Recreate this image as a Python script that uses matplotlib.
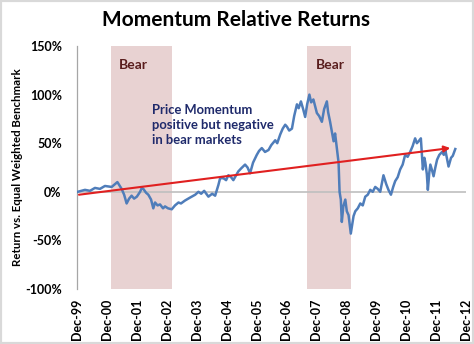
import matplotlib
matplotlib.use("Agg")
import matplotlib.pyplot as plt
from matplotlib.patches import Rectangle

# ---- data (months since Dec-99, relative return %) ----
months = [0.3, 3.2, 5.2, 7.2, 9.2, 11.2, 13.9, 14.8, 16.2, 17.9, 18.9, 19.9, 20.9, 21.9, 22.9,
          24.0, 25.3, 26.0, 26.6, 27.7, 28.6, 29.7, 30.6, 31.3, 32.3, 33.3, 34.5, 35.3, 36.5, 38.0,
          39.3, 40.7, 41.7, 43.3, 45.3, 47.4, 48.7, 49.8, 51.0, 52.7, 54.2, 55.4, 56.7, 57.4, 58.7,
          59.8, 60.7, 61.8, 62.7, 63.8, 64.7, 65.8, 67.4, 68.4, 69.4, 70.6, 72.1, 73.0, 74.1, 75.4,
          76.8, 77.9, 79.5, 80.3, 81.5, 82.5, 83.5, 84.2, 85.1, 86.2, 87.1, 88.2, 88.9, 89.8, 90.7,
          91.5, 92.3, 93.2, 93.9, 94.8, 95.5, 96.2, 97.1, 98.2, 99.1, 100.2, 100.7, 101.5, 102.2, 102.9,
          103.5, 104.5, 104.9, 105.3, 105.8, 106.2, 106.8, 107.6, 108.2, 108.9, 109.4, 109.8, 110.4, 110.9, 111.6,
          112.6, 113.6, 114.6, 115.6, 116.6, 117.6, 118.6, 119.6, 120.6, 121.6, 122.9, 124.0, 124.9, 125.9, 126.8,
          127.6, 128.6, 129.6, 130.6, 131.6, 132.6, 133.6, 134.6, 135.6, 136.3, 137.0, 137.9, 138.7, 139.3, 139.7,
          140.3, 140.7, 141.3, 141.7, 142.4, 143.0, 143.7, 144.4, 145.3, 146.4, 147.1, 147.7, 148.4, 149.0, 150.0,
          150.7, 151.7]
returns = [0, 2, 1, 4, 3, 6, 5, 7, 10, 3, -3, -12, -7, -4, -7,
           -5, 0, 4, 3, -1, -3, -8, -17, -11, -14, -13, -17, -15, -17, -18,
           -14, -11, -12, -9, -6, -3, 0, -2, 1, -5, -2, -4, 7, 14, 14,
           12, 17, 15, 12, 17, 21, 24, 28, 25, 19, 30, 38, 42, 45, 41,
           43, 48, 53, 50, 59, 65, 69, 67, 63, 65, 78, 90, 86, 93, 85,
           77, 90, 100, 92, 95, 88, 81, 78, 72, 85, 93, 82, 72, 62, 52,
           60, 38, 30, 0, -8, -31, -15, -8, -20, -24, -35, -43, -33, -25, -20,
           -17, -12, -14, -5, -3, 2, 0, 5, 3, 0, 17, 8, 2, -3, 5,
           11, 15, 23, 28, 38, 36, 41, 47, 55, 50, 52, 55, 23, 35, 30,
           18, 2, 20, 28, 22, 16, 25, 33, 38, 41, 38, 43, 34, 26, 35,
           37, 44]

bear_starts = [13.5, 92.4]
bear_ends = [38.0, 109.8]
bear_label = "Bear"

trend_start = (0.8, -3)
trend_end = (149.7, 45)

tick_labels = ["Dec-99", "Dec-00", "Dec-01", "Dec-02", "Dec-03", "Dec-04", "Dec-05",
               "Dec-06", "Dec-07", "Dec-08", "Dec-09", "Dec-10", "Dec-11", "Dec-12"]
y_ticks = [-100, -50, 0, 50, 100, 150]

title = "Momentum Relative Returns"
ylabel = "Return vs. Equal Weighted Benchmark"
note = "Price Momentum\npositive but negative\nin bear markets"

plt.rcParams['font.family'] = ['Lato', 'DejaVu Sans']
plt.rcParams['font.weight'] = 'bold'

fig = plt.figure(figsize=(4.74, 3.44), dpi=100)
ax = fig.add_axes([77/474, 1 - 289/344, (466 - 77)/474, (289 - 46)/344])

for s, e in zip(bear_starts, bear_ends):
    ax.axvspan(s, e, color='#E8D2D2', zorder=0, lw=0)
    ax.text(s + 3.3, 130, bear_label, color='#5A1E1E', fontsize=10,
            fontweight='bold', va='center', ha='left')

ax.axhline(0, color='#BFBFBF', lw=1.2, zorder=1)
ax.plot(months, returns, color='#4F7DBA', lw=1.8, zorder=3)

ax.annotate('', xy=trend_end, xytext=trend_start,
            arrowprops=dict(arrowstyle='-|>', color='#E02020', lw=1.5,
                            mutation_scale=9, shrinkA=0, shrinkB=0), zorder=4)

ax.text(30.0, 90, note, color='#1F2A6B', fontsize=9.4, fontweight='bold',
        va='top', ha='left', linespacing=1.3)

ax.set_xlim(0, 156)
ax.set_ylim(-100, 150)
ax.set_xticks([12 * i for i in range(len(tick_labels))])
ax.set_xticklabels(tick_labels, rotation=90, fontsize=9, fontweight='bold')
ax.set_yticks(y_ticks)
ax.set_yticklabels([f"{v}%" for v in y_ticks], fontsize=9, fontweight='bold')
ax.tick_params(axis='y', length=0, pad=11)
ax.tick_params(axis='x', length=0, pad=7)
for sp in ['top', 'right', 'bottom']:
    ax.spines[sp].set_visible(False)
ax.spines['left'].set_color('#A6A6A6')
ax.spines['left'].set_linewidth(0.9)

ax.set_ylabel(ylabel, fontsize=8.3, fontweight='bold')
ax.yaxis.set_label_coords(-54/389, 0.5)

fig.text(235.5/474, 1 - 20/344, title, fontsize=15, fontweight='bold',
         ha='center', va='center')

fig.patches.append(Rectangle((0, 0), 1, 1, transform=fig.transFigure, fill=False,
                             edgecolor='#D9D9D9', lw=3))

fig.savefig("out.png", dpi=100)
